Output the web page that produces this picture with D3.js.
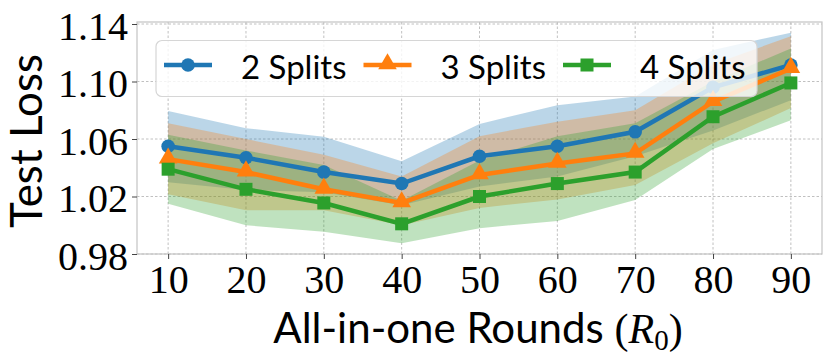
<!DOCTYPE html>
<html lang="en">
<head>
    <meta charset="UTF-8">
    <title>Test Loss vs All-in-one Rounds</title>
    <style>
        body {
            margin: 0;
            background-color: #ffffff;
        }
        .grid line {
            stroke: #b0b0b0;
            stroke-width: 0.8;
            stroke-dasharray: 2.5, 2;
        }
        .tick-label {
            font-family: 'Liberation Serif', serif;
            font-size: 40px;
            fill: #000;
        }
        .sans {
            font-family: 'Lato', sans-serif;
            fill: #000;
        }
    </style>
    <script src="https://d3js.org/d3.v7.min.js"></script>
</head>
<body>
    <div id="chart"></div>

    <script>
        // ---- data ----
        var rounds = [10, 20, 30, 40, 50, 60, 70, 80, 90];
        var yTicks = [0.98, 1.02, 1.06, 1.10, 1.14];

        var seriesNames = ["2 Splits", "3 Splits", "4 Splits"];
        var seriesColors = ["#1f77b4", "#ff7f0e", "#2ca02c"];
        var seriesMarkers = ["circle", "triangle", "square"];

        var loss2 = [1.055, 1.047, 1.037, 1.029, 1.048, 1.055, 1.065, 1.096, 1.1115];
        var upper2 = [1.0795, 1.0675, 1.0615, 1.0445, 1.0705, 1.0835, 1.0895, 1.122, 1.134];
        var lower2 = [1.030, 1.0245, 1.023, 1.014, 1.027, 1.034, 1.048, 1.066, 1.087];

        var loss3 = [1.046, 1.037, 1.025, 1.0155, 1.035, 1.043, 1.050, 1.086, 1.109];
        var upper3 = [1.071, 1.060, 1.049, 1.034, 1.062, 1.072, 1.080, 1.112, 1.1315];
        var lower3 = [1.0215, 1.0105, 1.0105, 1.000, 1.012, 1.018, 1.028, 1.057, 1.0815];

        var loss4 = [1.039, 1.025, 1.0155, 1.001, 1.020, 1.029, 1.037, 1.0755, 1.099];
        var upper4 = [1.063, 1.052, 1.042, 1.017, 1.045, 1.062, 1.071, 1.100, 1.123];
        var lower4 = [1.015, 1.000, 0.9955, 0.9875, 0.998, 1.003, 1.0175, 1.053, 1.073];

        var means = [loss2, loss3, loss4];
        var uppers = [upper2, upper3, upper4];
        var lowers = [lower2, lower3, lower4];

        var width = 830;
        var height = 363;
        var margin = {top: 22, right: 8, bottom: 109, left: 137};
        var plotW = width - margin.left - margin.right;
        var plotH = height - margin.top - margin.bottom;

        var svg = d3.select("#chart")
            .append("svg")
            .attr("width", width)
            .attr("height", height);

        var x = d3.scaleLinear().domain([6, 94]).range([0, plotW]);
        var y = d3.scaleLinear().domain([0.98, 1.1414]).range([plotH, 0]);

        var g = svg.append("g")
            .attr("transform", "translate(" + margin.left + "," + margin.top + ")");

        // grid
        g.append("g").attr("class", "grid")
            .selectAll("line").data(rounds).enter().append("line")
            .attr("x1", function(d) { return x(d); })
            .attr("x2", function(d) { return x(d); })
            .attr("y1", 0).attr("y2", plotH);
        g.append("g").attr("class", "grid")
            .selectAll("line").data(yTicks).enter().append("line")
            .attr("y1", function(d) { return y(d); })
            .attr("y2", function(d) { return y(d); })
            .attr("x1", 0).attr("x2", plotW);

        // shaded bands
        var area = d3.area()
            .x(function(d) { return x(d.r); })
            .y0(function(d) { return y(d.lo); })
            .y1(function(d) { return y(d.hi); });

        seriesNames.forEach(function(name, i) {
            var pts = rounds.map(function(r, j) {
                return {r: r, lo: lowers[i][j], hi: uppers[i][j]};
            });
            g.append("path")
                .datum(pts)
                .attr("d", area)
                .style("fill", seriesColors[i])
                .style("fill-opacity", 0.3)
                .style("stroke", "none");
        });

        // lines + markers
        var line = d3.line()
            .x(function(d) { return x(d.r); })
            .y(function(d) { return y(d.v); });

        function drawMarker(sel, type, color, cx, cy) {
            if (type === "circle") {
                sel.append("circle").attr("cx", cx).attr("cy", cy).attr("r", 6.8)
                    .style("fill", color);
            } else if (type === "triangle") {
                sel.append("path")
                    .attr("d", d3.symbol().type(d3.symbolTriangle).size(150)())
                    .attr("transform", "translate(" + cx + "," + (cy - 1) + ")")
                    .style("fill", color);
            } else {
                sel.append("rect").attr("x", cx - 6.5).attr("y", cy - 6.5)
                    .attr("width", 13).attr("height", 13)
                    .style("fill", color);
            }
        }

        seriesNames.forEach(function(name, i) {
            var pts = rounds.map(function(r, j) { return {r: r, v: means[i][j]}; });
            g.append("path")
                .datum(pts)
                .attr("d", line)
                .style("fill", "none")
                .style("stroke", seriesColors[i])
                .style("stroke-width", 4.5);
            var mg = g.append("g");
            pts.forEach(function(p) {
                drawMarker(mg, seriesMarkers[i], seriesColors[i], x(p.r), y(p.v));
            });
        });

        // frame
        g.append("rect")
            .attr("width", plotW).attr("height", plotH)
            .style("fill", "none")
            .style("stroke", "#c4c4c4")
            .style("stroke-width", 1.2);

        // axes
        var xAxis = g.append("g")
            .attr("transform", "translate(0," + plotH + ")")
            .call(d3.axisBottom(x).tickValues(rounds).tickSize(5).tickPadding(0).tickFormat(""));
        xAxis.select(".domain").remove();
        xAxis.selectAll(".tick line").style("stroke", "#444").style("stroke-width", 1);
        xAxis.selectAll(".tick").append("text")
            .attr("class", "tick-label")
            .attr("y", 39)
            .attr("text-anchor", "middle")
            .text(function(d) { return d; });

        var yAxis = g.append("g")
            .call(d3.axisLeft(y).tickValues(yTicks).tickSize(5).tickFormat(""));
        yAxis.select(".domain").remove();
        yAxis.selectAll(".tick line").style("stroke", "#444").style("stroke-width", 1);
        yAxis.selectAll(".tick").append("text")
            .attr("class", "tick-label")
            .attr("x", -9)
            .attr("y", 15)
            .attr("text-anchor", "end")
            .text(function(d) { return d3.format(".2f")(d); });

        // axis titles
        svg.append("text")
            .attr("class", "sans")
            .attr("transform", "translate(42,141) rotate(-90)")
            .attr("text-anchor", "middle")
            .style("font-size", "44px")
            .text("Test Loss");

        var xt = svg.append("text")
            .attr("class", "sans")
            .attr("x", 478)
            .attr("y", 343)
            .attr("text-anchor", "middle")
            .style("font-size", "42px");
        xt.append("tspan").text("All-in-one Rounds ");
        xt.append("tspan").style("font-family", "'Liberation Serif', serif").text("(");
        xt.append("tspan").style("font-family", "'Liberation Serif', serif")
            .style("font-style", "italic").text("R");
        xt.append("tspan").style("font-family", "'Liberation Serif', serif")
            .style("font-size", "29px").attr("dy", 7).text("0");
        xt.append("tspan").style("font-family", "'Liberation Serif', serif")
            .attr("dy", -7).text(")");

        // legend
        var leg = svg.append("g");
        leg.append("rect")
            .attr("x", 156).attr("y", 40.5)
            .attr("width", 601).attr("height", 56)
            .attr("rx", 6)
            .style("fill", "#ffffff").style("fill-opacity", 0.8)
            .style("stroke", "#d6d6d6").style("stroke-width", 1.2);

        seriesNames.forEach(function(name, i) {
            var x0 = 164 + i * 199.5;
            var item = leg.append("g");
            item.append("line")
                .attr("x1", x0).attr("x2", x0 + 48)
                .attr("y1", 65).attr("y2", 65)
                .style("stroke", seriesColors[i])
                .style("stroke-width", 4.5);
            drawMarker(item, seriesMarkers[i], seriesColors[i], x0 + 24, 65);
            item.append("text")
                .attr("class", "sans")
                .attr("x", x0 + 77)
                .attr("y", 79)
                .style("font-size", "33px")
                .text(name);
        });
    </script>
</body>
</html>
